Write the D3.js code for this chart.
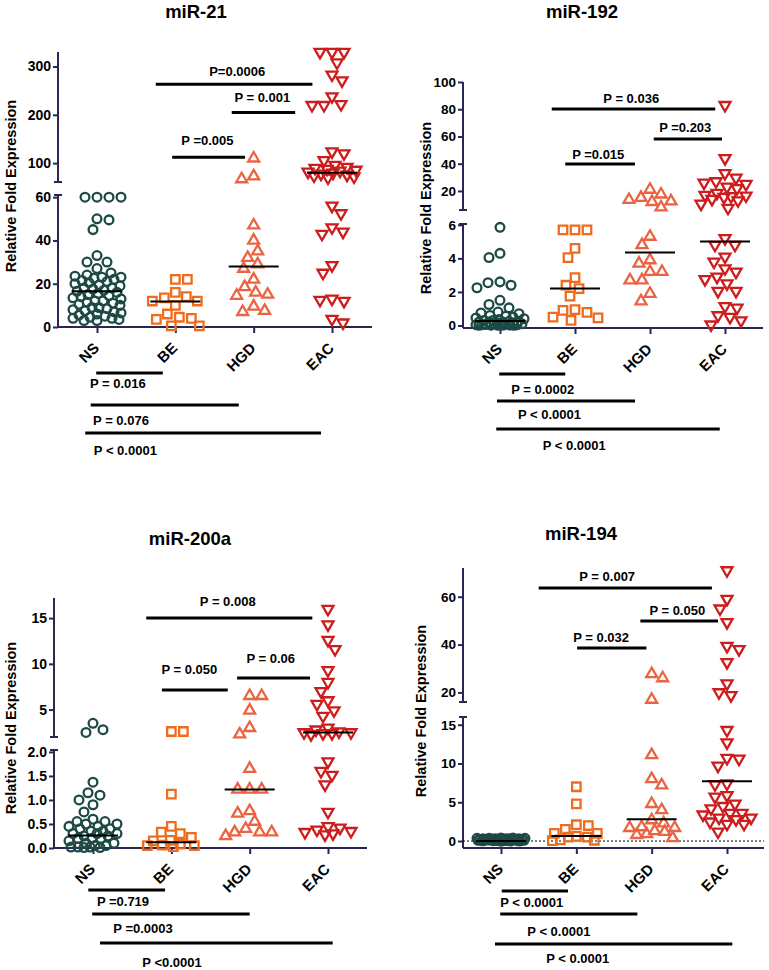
<!DOCTYPE html>
<html><head><meta charset="utf-8">
<script src="https://cdn.jsdelivr.net/npm/d3@7"></script>
<style>body{margin:0;background:#fff}svg{display:block}text{font-family:"Liberation Sans",Arial,sans-serif}</style>
</head><body><svg id="c" width="769" height="970"></svg>
<script>
const categories = ["NS","BE","HGD","EAC"];
const panelTitles = ["miR-21","miR-192","miR-200a","miR-194"];
const yAxisLabel = "Relative Fold Expression";

// miR-21
const mir21NS = [60,60,60,60,50,49.5,45,33,30,30,27,25,24,23.5,23,23,22.5,22,21.5,21,20.5,20,19.5,19,18,18,17.5,17,16.5,16,15.5,15,14.5,14,13.5,13,12,12,11.5,11,10.5,10,9,9,8.5,8,7.5,7,6.5,6,5.5,5,4.5,4,4,3.5,3,3];
const mir21BE = [22,22,16,14,13.5,12,12,10,6,4.5,4,3.5,0.5,0.5];
const mir21HGD = [110,73,67,47,40,35,32,29,27,22,18.5,16,15,14.5,9.5,7.5,7];
const mir21EAC = [330,330,330,308,283,271,238,222,220,220,124,120,106,96,92,90,88,86,84,82,80,78,76,74,72,70,56,52.5,46,44,43,28.5,25,13,12.5,12,3.7,2];
const mir21Median = [16.5,11.8,28,80];
const mir21LowerTicks = [0,20,40,60];
const mir21UpperTicks = [100,200,300];
const mir21TopP = ["P=0.0006","P = 0.001","P =0.005"];
const mir21BottomP = ["P = 0.016","P = 0.076","P < 0.0001"];

// miR-192
const mir192NS = [5.85,4.3,4.05,2.6,2.55,2.4,2.25,1.5,1.25,1.05,0.8,0.75,0.7,0.6,0.55,0.5,0.45,0.4,0.35,0.3,0.3,0.25,0.25,0.2,0.2,0.2,0.15,0.15,0.1,0.1,0.1,0.08,0.06,0.05,0.05,0.04,0.03,0.02,0.02,0.01,0.01,0.01];
const mir192BE = [5.7,5.7,5.7,4.6,4.05,2.85,2.4,2.2,1.75,0.95,0.9,0.78,0.5,0.45,0.3];
const mir192HGD = [21,17.5,15,13.5,12.5,12,8,5.3,4.8,3.9,3.7,3.2,3.2,2.7,2.7,1.9,1.45];
const mir192EAC = [83,44,33,29.6,27,26,25,23,22,18.5,17,16.5,16,15.5,14,13,10.5,7.5,5.2,4.8,4.8,4.1,3.8,3.4,3.2,2.9,2.75,2.5,2.05,2.05,1.15,1.05,0.6,0.5,0.3,0.05];
const mir192Median = [0.27,2.2,4.35,5.0];
const mir192LowerTicks = [0,2,4,6];
const mir192UpperTicks = [20,40,60,80,100];
const mir192TopP = ["P = 0.036","P =0.203","P =0.015"];
const mir192BottomP = ["P = 0.0002","P < 0.0001","P < 0.0001"];

// miR-200a
const mir200aNS = [3.5,2.8,2.5,1.37,1.15,1.1,1.0,0.9,0.75,0.6,0.55,0.55,0.5,0.5,0.45,0.45,0.4,0.4,0.35,0.35,0.3,0.3,0.3,0.25,0.25,0.2,0.2,0.2,0.15,0.1,0.1,0.05,0.05,0.02,0.02,0.02,0.01,0.01];
const mir200aBE = [2.6,2.6,1.12,0.45,0.33,0.3,0.22,0.16,0.15,0.08,0.06,0.05,0.05,0.03];
const mir200aHGD = [6.5,6.5,4.9,3.0,2.3,1.65,1.22,1.22,1.22,0.77,0.72,0.55,0.4,0.33,0.33,0.33,0.25];
const mir200aEAC = [16,14.3,12.6,11.6,9.3,8,7,6,5.6,4.9,4.3,3.0,2.8,2.6,2.5,2.5,2.4,2.4,2.3,1.8,1.6,1.52,1.32,0.75,0.45,0.42,0.38,0.35,0.33,0.3,0.28];
const mir200aMedian = [0.26,0.12,1.22,2.5];
const mir200aLowerTicks = [0,0.5,1.0,1.5,2.0];
const mir200aUpperTicks = [5,10,15];
const mir200aTopP = ["P = 0.008","P = 0.06","P = 0.050"];
const mir200aBottomP = ["P =0.719","P =0.0003","P <0.0001"];

// miR-194
const mir194NS = [0.4,0.4,0.35,0.35,0.35,0.3,0.3,0.3,0.3,0.25,0.25,0.25,0.25,0.2,0.2,0.2,0.2,0.2,0.15,0.15,0.15,0.15,0.1,0.1,0.1,0.1,0.08,0.08,0.06,0.06,0.05,0.05,0.04,0.03,0.03,0.02,0.02,0.01,0.01,0.01];
const mir194BE = [7.0,4.8,2.1,2.0,1.5,1.0,1.0,0.6,0.5,0.5,0.15,0.1,0.05];
const mir194HGD = [27.7,26,17,11.1,8,7.2,4.8,4.0,2.7,2.3,1.8,1.7,1.7,1.3,1.2,0.9,0.8,0.4];
const mir194EAC = [71,59,55,49.3,39.4,38,32.6,23.7,20,18.8,14.3,12.7,10.7,10.6,9.7,7.4,7.3,5.9,5.7,4.8,4.5,4.2,3.6,3.6,3.4,3.0,3.0,2.8,2.5,2.2,2.2,1.2];
const mir194Median = [0,0.65,2.8,7.7];
const mir194LowerTicks = [0,5,10,15];
const mir194UpperTicks = [20,40,60];
const mir194TopP = ["P = 0.007","P = 0.050","P = 0.032"];
const mir194BottomP = ["P < 0.0001","P < 0.0001","P < 0.0001"];

// ---------- layout / style ----------
const colors = ["#1d4a44","#ef6c1f","#ea6442","#cc1c1c"];
const axisColor = "#2b2552";
const svg = d3.select("#c");

const panels = [
 {title:panelTitles[0], data:[mir21NS,mir21BE,mir21HGD,mir21EAC], medians:mir21Median,
  lowerTicks:mir21LowerTicks, upperTicks:mir21UpperTicks, fmt:d3.format("d"),
  breakAt:60, lowerDomain:[0,61], lowerRange:[327,195], upperDomain:[61,330], upperRange:[182,52],
  axisX:58, axisRight:372, axisY:327, catRange:[97,332], titleX:196, titleY:18, labelX:11, labelY:186,
  tickFont:14, zeroLine:false,
  top:[{x1:0.75,x2:2.75,v:263.5,tx:1.79,dy:-8},{x1:1.72,x2:2.53,v:205,tx:2.11,dy:-10},{x1:0.96,x2:1.89,v:112,tx:1.41,dy:-12}],
  topP:mir21TopP,
  bottom:[{x1:-0.01,x2:0.84,dy:46,tx:-0.09,tdy:61},{x1:-0.08,x2:1.81,dy:78,tx:-0.05,tdy:98},{x1:-0.15,x2:2.86,dy:106,tx:-0.04,tdy:128}],
  bottomP:mir21BottomP},
 {title:panelTitles[1], data:[mir192NS,mir192BE,mir192HGD,mir192EAC], medians:mir192Median,
  lowerTicks:mir192LowerTicks, upperTicks:mir192UpperTicks, fmt:d3.format("d"),
  breakAt:6, lowerDomain:[-0.15,6.05], lowerRange:[328,224], upperDomain:[6,100], upperRange:[210,82],
  axisX:463, axisRight:763, axisY:328, catRange:[500,725], titleX:582, titleY:18, labelX:426, labelY:208,
  tickFont:13.5, zeroLine:false,
  top:[{x1:0.69,x2:2.87,v:80.2,tx:1.75,dy:-6},{x1:2.05,x2:2.96,v:58.1,tx:2.47,dy:-7},{x1:0.87,x2:1.8,v:39.8,tx:1.31,dy:-5}],
  topP:mir192TopP,
  bottom:[{x1:-0.01,x2:0.87,dy:46,tx:0.15,tdy:66},{x1:-0.04,x2:1.8,dy:73,tx:0.24,tdy:91},{x1:-0.05,x2:2.93,dy:101,tx:0.57,tdy:122}],
  bottomP:mir192BottomP},
 {title:panelTitles[2], data:[mir200aNS,mir200aBE,mir200aHGD,mir200aEAC], medians:mir200aMedian,
  lowerTicks:mir200aLowerTicks, upperTicks:mir200aUpperTicks, fmt:d3.format(".1f"), upperFmt:d3.format("d"),
  breakAt:2, lowerDomain:[0,2.04], lowerRange:[848,750], upperDomain:[2,17.2], upperRange:[737,598],
  axisX:54, axisRight:367, axisY:848, catRange:[93,328], titleX:190, titleY:545, labelX:11, labelY:728,
  tickFont:14, zeroLine:false,
  top:[{x1:0.68,x2:2.80,v:15,tx:1.72,dy:-12},{x1:1.84,x2:2.77,v:8.46,tx:2.27,dy:-15},{x1:0.88,x2:1.72,v:7.15,tx:1.23,dy:-16}],
  topP:mir200aTopP,
  bottom:[{x1:-0.06,x2:0.92,dy:42,tx:0.05,tdy:58},{x1:-0.01,x2:2.0,dy:66,tx:0.26,tdy:85},{x1:0.09,x2:3.06,dy:95,tx:0.63,tdy:119}],
  bottomP:mir200aBottomP},
 {title:panelTitles[3], data:[mir194NS,mir194BE,mir194HGD,mir194EAC], medians:mir194Median,
  lowerTicks:mir194LowerTicks, upperTicks:mir194UpperTicks, fmt:d3.format("d"),
  breakAt:16, lowerDomain:[-0.9,16], lowerRange:[848,717], upperDomain:[16,72], upperRange:[702,568],
  axisX:463, axisRight:764, axisY:848, catRange:[501,727], titleX:581, titleY:540, labelX:421, labelY:711,
  tickFont:13.5, zeroLine:true,
  top:[{x1:0.5,x2:2.8,v:63.6,tx:1.41,dy:-7},{x1:1.85,x2:2.88,v:49.8,tx:2.34,dy:-6},{x1:1.01,x2:1.93,v:38.6,tx:1.33,dy:-6}],
  topP:mir194TopP,
  bottom:[{x1:0.01,x2:0.89,dy:43,tx:-0.01,tdy:59},{x1:-0.01,x2:1.81,dy:66,tx:0.35,tdy:88},{x1:-0.08,x2:3.07,dy:96,tx:0.6,tdy:115}],
  bottomP:mir194BottomP}
];

// greedy beeswarm: y stays exact, x moved off-centre only as far as needed
function swarm(vals, cx, y, diam, maxHalf){
  const pts = vals.map(v=>({v,py:y(v)})).sort((a,b)=>a.py-b.py);
  const placed=[];
  pts.forEach((p,idx)=>{
    let best=cx, bestScore=-1;
    const sgn = idx%2 ? 1 : -1;
    for(let k=0;k<=2*maxHalf;k++){
      const off = (k%2 ? sgn : -sgn)*Math.ceil(k/2);
      const px = cx+off;
      let minD=Infinity;
      for(const q of placed){const d=Math.hypot(q.px-px,q.py-p.py); if(d<minD) minD=d;}
      if(minD>=diam){best=px; bestScore=Infinity; break;}
      if(minD>bestScore+0.5){bestScore=minD; best=px;}
    }
    p.px=best; placed.push(p);
  });
  return pts;
}

const triUp = d3.symbol().type(d3.symbolTriangle).size(52)();

panels.forEach(P=>{
  const g = svg.append("g");
  const x = d3.scaleLinear().domain([0,3]).range(P.catRange);
  const yLo = d3.scaleLinear().domain(P.lowerDomain).range(P.lowerRange);
  const yUp = d3.scaleLinear().domain(P.upperDomain).range(P.upperRange);
  const y = v => v > P.breakAt ? yUp(v) : yLo(v);

  g.append("text").attr("x",P.titleX).attr("y",P.titleY).attr("text-anchor","middle")
   .attr("font-size",18.5).attr("font-weight","bold").text(P.title);
  g.append("text").attr("transform",`translate(${P.labelX},${P.labelY}) rotate(-90)`)
   .attr("text-anchor","middle").attr("dominant-baseline","central")
   .attr("font-size",14.5).attr("font-weight","bold").text(yAxisLabel);

  const axL = g.append("g").attr("transform",`translate(${P.axisX},0)`)
    .call(d3.axisLeft(yLo).tickValues(P.lowerTicks).tickFormat(P.fmt).tickSize(5).tickPadding(2));
  const axU = g.append("g").attr("transform",`translate(${P.axisX},0)`)
    .call(d3.axisLeft(yUp).tickValues(P.upperTicks).tickFormat(P.upperFmt||P.fmt).tickSize(5).tickPadding(2));
  [axL,axU].forEach(a=>{
    a.select(".domain").remove();
    a.selectAll(".tick line").attr("stroke",axisColor).attr("stroke-width",2);
    a.selectAll(".tick text").attr("font-size",P.tickFont).attr("font-weight","bold").attr("fill","#000")
      .attr("font-family","'Liberation Sans',Arial,sans-serif");
  });
  const seg = (x1,y1,x2,y2)=>g.append("line").attr("x1",x1).attr("y1",y1).attr("x2",x2).attr("y2",y2)
     .attr("stroke",axisColor).attr("stroke-width",2);
  seg(P.axisX,P.lowerRange[0],P.axisX,P.lowerRange[1]);
  seg(P.axisX-4,P.lowerRange[1],P.axisX+4,P.lowerRange[1]);
  seg(P.axisX,P.upperRange[0],P.axisX,P.upperRange[1]);
  seg(P.axisX-4,P.upperRange[0],P.axisX+4,P.upperRange[0]);

  const xa = g.append("g").attr("transform",`translate(0,${P.axisY})`)
    .call(d3.axisBottom(x).tickValues([0,1,2,3]).tickSize(6).tickFormat(""));
  xa.select(".domain").remove();
  xa.selectAll(".tick line").attr("stroke",axisColor).attr("stroke-width",2);
  seg(P.axisX,P.axisY,P.axisRight,P.axisY);
  g.selectAll(".xl").data(categories).join("text")
   .attr("transform",(d,i)=>`translate(${x(i)+3},${P.axisY+22}) rotate(-45)`)
   .attr("text-anchor","end").attr("font-size",15).attr("font-weight","bold").text(d=>d);

  if(P.zeroLine){
    g.append("line").attr("x1",P.axisX).attr("x2",P.axisRight).attr("y1",yLo(0)).attr("y2",yLo(0))
     .attr("stroke","#000").attr("stroke-width",1).attr("stroke-dasharray","2,2");
  }

  P.data.forEach((vals,gi)=>{
    const pts = swarm(vals, x(gi), y, 11.5, 24);
    const col = colors[gi];
    const sel = g.append("g").selectAll("path").data(pts).join("path")
      .attr("transform",d=>`translate(${d.px},${d.py})`+(gi===3?" rotate(180)":""))
      .attr("fill","none").attr("stroke",col).attr("stroke-width",2.3);
    if(gi===0) sel.attr("d",d3.symbol().type(d3.symbolCircle).size(60)());
    else if(gi===1) sel.attr("d",d3.symbol().type(d3.symbolSquare).size(72)());
    else sel.attr("d",triUp);
  });

  g.selectAll(".med").data(P.medians).join("line")
   .attr("x1",(d,i)=>x(i)-25).attr("x2",(d,i)=>x(i)+25)
   .attr("y1",d=>y(d)).attr("y2",d=>y(d)).attr("stroke","#000").attr("stroke-width",2);

  P.top.forEach((b,i)=>{
    const yy = yUp(b.v);
    g.append("line").attr("x1",x(b.x1)).attr("x2",x(b.x2)).attr("y1",yy).attr("y2",yy)
     .attr("stroke","#000").attr("stroke-width",3);
    g.append("text").attr("x",x(b.tx)).attr("y",yy+b.dy).attr("text-anchor","middle")
     .attr("font-size",13).attr("font-weight","bold").text(P.topP[i]);
  });
  P.bottom.forEach((b,i)=>{
    const yy = P.axisY+b.dy;
    g.append("line").attr("x1",x(b.x1)).attr("x2",x(b.x2)).attr("y1",yy).attr("y2",yy)
     .attr("stroke","#000").attr("stroke-width",3);
    g.append("text").attr("x",x(b.tx)).attr("y",P.axisY+b.tdy).attr("text-anchor","start")
     .attr("font-size",13).attr("font-weight","bold").text(P.bottomP[i]);
  });
});
</script></body></html>
